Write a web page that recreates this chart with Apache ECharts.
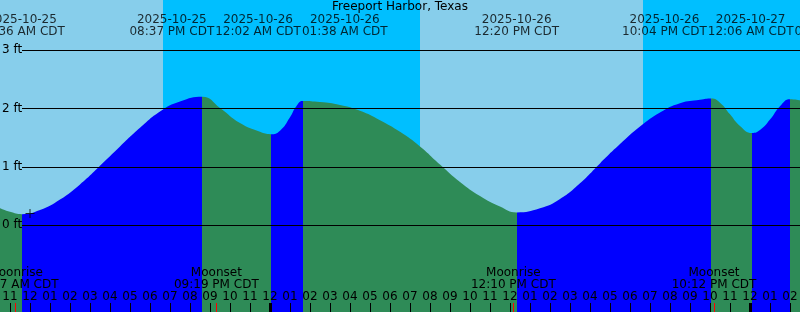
<!DOCTYPE html>
<html><head><meta charset="utf-8">
<script src="https://cdn.jsdelivr.net/npm/echarts@6/dist/echarts.min.js"></script>
<style>html,body{margin:0;padding:0;background:#87CEEB}#c{width:800px;height:312px}</style>
</head><body><div id="c"></div>
<script>
// ---- data (times in hours since 2025-10-25 00:00 CDT) ----
const chartTitle = 'Freeport Harbor, Texas';
const axisStart = 10.5, axisEnd = 50.5;
const feetMin = -1.485, feetMax = 3.858;
const hourTicks = [11,12,13,14,15,16,17,18,19,20,21,22,23,24,25,26,27,28,29,30,31,32,33,34,35,36,37,38,39,40,41,42,43,44,45,46,47,48,49,50];
const midnightTicks = [24, 48];
const feetTicks = [0, 1, 2, 3];

const curveTimes = [10.5, 11.0, 11.6, 12.5, 13.5, 14.5, 15.5, 16.5, 17.5, 18.5, 19.5, 20.617, 21.5, 22.5, 23.5, 24.033, 24.5, 25.0, 25.3, 25.633, 26.5, 27.5, 28.5, 29.5, 30.5, 31.5, 32.5, 33.5, 34.5, 35.5, 36.333, 37.5, 38.5, 39.5, 40.5, 41.5, 42.5, 43.5, 44.5, 45.5, 46.067, 46.5, 47.0, 47.5, 48.1, 48.5, 49.0, 49.5, 50.0, 50.5];
const curveFeet  = [0.29, 0.23, 0.19, 0.26, 0.44, 0.70, 1.02, 1.35, 1.67, 1.95, 2.12, 2.20, 2.01, 1.75, 1.60, 1.56, 1.62, 1.85, 2.03, 2.13, 2.11, 2.06, 1.96, 1.80, 1.60, 1.35, 1.04, 0.74, 0.50, 0.32, 0.22, 0.29, 0.45, 0.72, 1.06, 1.39, 1.69, 1.93, 2.09, 2.15, 2.17, 2.10, 1.90, 1.70, 1.58, 1.63, 1.81, 2.04, 2.16, 2.14];

const tideTimes = [11.6, 20.617, 24.033, 25.633, 36.333, 46.067, 48.1, 50.0];
const tideKinds = ['low', 'high', 'low', 'high', 'low', 'high', 'low', 'high'];
const tideDates = ['2025-10-25', '2025-10-25', '2025-10-26', '2025-10-26', '2025-10-26', '2025-10-26', '2025-10-27', '2025-10-27'];
const tideClock = ['11:36 AM CDT', '08:37 PM CDT', '12:02 AM CDT', '01:38 AM CDT', '12:20 PM CDT', '10:04 PM CDT', '12:06 AM CDT', '02:00 AM CDT'];

const moonTimes = [11.283, 21.317, 36.167, 46.2];
const moonKinds = ['Moonrise', 'Moonset', 'Moonrise', 'Moonset'];
const moonClock = ['11:17 AM CDT', '09:19 PM CDT', '12:10 PM CDT', '10:12 PM CDT'];

const nightStarts = [18.65, 42.65];
const nightEnds = [31.5, 50.5];

const markerTimes = [12.0];
const markerFeet = [0.2];

// ---- styles ----
const FONT = 'DejaVu Sans';
const DAY = '#87CEEB', NIGHT = '#00BFFF', RISE = '#0000FF', FALL = '#2E8B57';

function hourLabel(v) {
  const h = Math.round(v) % 24;
  const h12 = h % 12 === 0 ? 12 : h % 12;
  return (h12 < 10 ? '0' : '') + h12;
}

// fill pieces: rising (to a high) blue, falling (to a low) green
const bounds = [axisStart].concat(tideTimes);
const pieces = [];
for (let i = 0; i < bounds.length; i++) {
  const lo = bounds[i];
  const hi = i < tideTimes.length ? tideTimes[i] : axisEnd;
  const kind = i < tideTimes.length ? tideKinds[i] : (tideKinds[tideKinds.length - 1] === 'high' ? 'low' : 'high');
  const p = { gte: lo, color: kind === 'high' ? RISE : FALL };
  if (i < bounds.length - 1) p.lt = hi; else p.lte = hi + 1;
  pieces.push(p);
}

const chart = echarts.init(document.getElementById('c'), null, { renderer: 'canvas' });

const txt = { fontFamily: FONT, fontSize: 12, color: '#000' };
const noLine = { show: false, onZero: false };

const option = {
  animation: false,
  backgroundColor: DAY,
  title: { text: chartTitle, left: 'center', top: 1, padding: 0,
    textStyle: { fontFamily: FONT, fontSize: 12, fontWeight: 'normal', color: '#000', lineHeight: 12 } },
  grid: [
    { left: 0, right: 0, top: 0, bottom: 0, containLabel: false, outerBoundsMode: 'none' },
    { left: 22, right: 0, top: 0, bottom: 0, containLabel: false, outerBoundsMode: 'none' }
  ],
  xAxis: [
    { type: 'value', gridIndex: 0, min: axisStart, max: axisEnd, position: 'bottom', z: 6,
      axisLine: noLine, splitLine: { show: false },
      axisTick: { show: true, inside: true, length: 9, customValues: hourTicks, lineStyle: { color: '#000', width: 1 } },
      axisLabel: Object.assign({ show: true, inside: true, margin: 9, lineHeight: 12, customValues: hourTicks, formatter: hourLabel }, txt) },
    { type: 'value', gridIndex: 0, min: axisStart, max: axisEnd, position: 'bottom', z: 7,
      axisLine: noLine, splitLine: { show: false },
      axisTick: { show: true, inside: true, length: 9, customValues: midnightTicks, lineStyle: { color: '#000', width: 3 } },
      axisLabel: { show: false } },
    { type: 'value', gridIndex: 0, min: axisStart, max: axisEnd, position: 'bottom', z: 7,
      axisLine: noLine, splitLine: { show: false },
      axisTick: { show: true, inside: true, length: 9, customValues: moonTimes, lineStyle: { color: '#FF0000', width: 1 } },
      axisLabel: Object.assign({ show: true, inside: true, margin: 21, lineHeight: 12, customValues: moonTimes,
        formatter: function (v) { const i = moonTimes.indexOf(v); return i < 0 ? '' : moonKinds[i] + '\n' + moonClock[i]; } }, txt) },
    { type: 'value', gridIndex: 1, min: axisStart, max: axisEnd, show: false, axisLine: noLine }
  ],
  yAxis: [
    { type: 'value', gridIndex: 0, min: feetMin, max: feetMax, position: 'left', z: 6,
      axisLine: noLine, axisTick: { show: false }, splitLine: { show: false },
      axisLabel: Object.assign({ show: true, inside: true, margin: 2, customValues: feetTicks, formatter: v => v + ' ft' }, txt) },
    { type: 'value', gridIndex: 1, min: feetMin, max: feetMax, show: false, axisLine: noLine }
  ],
  visualMap: { type: 'piecewise', show: false, dimension: 0, seriesIndex: 1, pieces: pieces },
  series: [
    { id: 'night', type: 'line', xAxisIndex: 0, yAxisIndex: 0, z: 1, data: [], symbol: 'none',
      markArea: { silent: true, itemStyle: { color: NIGHT, opacity: 1 },
        data: nightStarts.map((s, i) => [{ xAxis: s }, { xAxis: nightEnds[i] }]) } },
    { id: 'tide', type: 'line', xAxisIndex: 0, yAxisIndex: 0, z: 2,
      data: curveTimes.map((t, i) => [t, curveFeet[i]]),
      smooth: 0.5, symbol: 'none',
      lineStyle: { width: 0 }, areaStyle: { opacity: 1, origin: 'start' } },
    { id: 'levels', type: 'line', xAxisIndex: 3, yAxisIndex: 1, z: 5, data: [], symbol: 'none',
      markLine: { silent: true, symbol: ['none', 'none'], label: { show: false },
        lineStyle: { color: '#000', width: 1, type: 'solid' },
        data: feetTicks.map(v => ({ yAxis: v })) } },
    { id: 'tideLabels', type: 'scatter', xAxisIndex: 0, yAxisIndex: 0, z: 8, symbolSize: 0, clip: false,
      data: tideTimes.map((t, i) => ({ value: [t, feetMax], name: tideDates[i] + '\n' + tideClock[i] })),
      label: Object.assign({ show: true, position: 'bottom', distance: 14, lineHeight: 12, align: 'center',
        formatter: p => p.name }, txt) },
    { id: 'plus', type: 'scatter', xAxisIndex: 0, yAxisIndex: 0, z: 8,
      symbol: 'path://M0,4h9v1h-9zM4,0h1v9h-1z', symbolSize: 9,
      itemStyle: { color: '#000' },
      data: markerTimes.map((t, i) => [t, markerFeet[i]]) }
  ]
};
chart.setOption(option);

// pack event labels side by side so they do not overlap (centered on their events)
(function () {
  const ctx = document.createElement('canvas').getContext('2d');
  ctx.font = '12px "' + FONT + '"';
  const widths = tideTimes.map((t, i) => Math.max(ctx.measureText(tideClock[i]).width, ctx.measureText(tideDates[i]).width) + 1);
  const px = tideTimes.map(t => chart.convertToPixel({ xAxisIndex: 0 }, t));
  let groups = px.map((p, i) => ({ idx: [i] }));
  const gW = g => g.idx.reduce((s, i) => s + widths[i], 0);
  const gStart = g => g.idx.reduce((s, i) => s + px[i], 0) / g.idx.length - gW(g) / 2;
  let changed = true;
  while (changed) {
    changed = false;
    for (let k = 0; k < groups.length - 1; k++) {
      const a = groups[k], b = groups[k + 1];
      if (gStart(a) + gW(a) > gStart(b)) {
        groups.splice(k, 2, { idx: a.idx.concat(b.idx) });
        changed = true; break;
      }
    }
  }
  const offsets = new Array(px.length).fill(0);
  groups.forEach(g => {
    let x = gStart(g);
    g.idx.forEach(i => { offsets[i] = x + widths[i] / 2 - px[i]; x += widths[i]; });
  });
  chart.setOption({ series: [{ id: 'tideLabels',
    data: tideTimes.map((t, i) => ({ value: [t, feetMax], name: tideDates[i] + '\n' + tideClock[i],
      label: { offset: [offsets[i], 0] } })) }] });
})();
</script>
</body></html>
